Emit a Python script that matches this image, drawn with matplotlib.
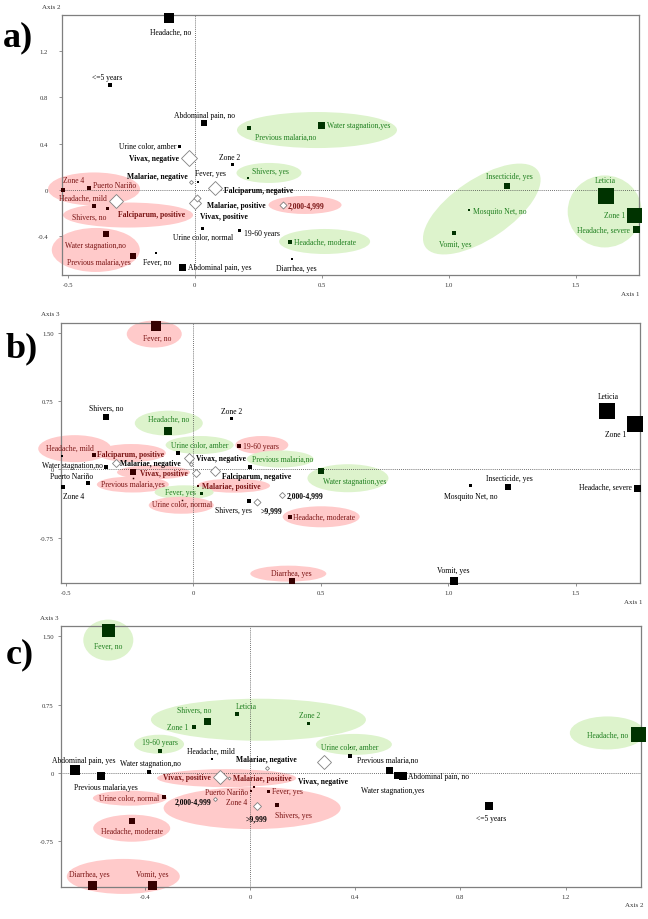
import matplotlib.pyplot as plt
from matplotlib.patches import Ellipse
from matplotlib.transforms import ScaledTranslation

plt.rcParams['font.family'] = ['Liberation Serif', 'DejaVu Serif']

# ---------- a) Axis 1 (x) vs Axis 2 (y) ----------
a_names = ['Headache, no', '<=5 years', 'Abdominal pain, no', 'Urine color, amber',
           'Vivax, negative', 'Zone 2', 'Shivers, yes', 'Malariae, negative', 'Fever, yes',
           'Falciparum, negative', 'Zone 4', 'Puerto Nariño', 'Headache, mild', 'Shivers, no',
           'Falciparum, positive', 'Malariae, positive', 'Vivax, positive', '2,000-4,999',
           'Urine color, normal', '19-60 years', 'Headache, moderate', 'Diarrhea, yes',
           'Water stagnation,no', 'Previous malaria,yes', 'Fever, no', 'Abdominal pain, yes',
           'Previous malaria,no', 'Water stagnation,yes', 'Insecticide, yes', 'Mosquito Net, no',
           'Vomit, yes', 'Leticia', 'Zone 1', 'Headache, severe']
a_x = [-0.100, -0.333, 0.036, -0.061, -0.022, 0.146, 0.212, -0.014, 0.015, 0.082,
       -0.517, -0.417, -0.396, -0.346, -0.309, 0.002, 0.010, 0.347, 0.028, 0.175,
       0.376, 0.383, -0.347, -0.241, -0.150, -0.049, 0.216, 0.498, 1.231, 1.081,
       1.020, 1.620, 1.731, 1.738]
a_y = [1.483, 0.908, 0.578, 0.382, 0.276, 0.224, 0.103, 0.066, 0.072, 0.020,
       0.003, 0.015, -0.141, -0.158, -0.092, -0.112, -0.073, -0.129, -0.325, -0.342,
       -0.446, -0.597, -0.382, -0.566, -0.543, -0.661, 0.532, 0.563, 0.032, -0.175,
       -0.373, -0.049, -0.213, -0.339]

# ---------- b) Axis 1 (x) vs Axis 3 (y) ----------
b_names = ['Fever, no', 'Shivers, no', 'Zone 2', 'Headache, no', 'Urine color, amber',
           '19-60 years', 'Headache, mild', 'Falciparum, positive', 'Water stagnation,no',
           'Malariae, negative', 'Vivax, negative', '', '', 'Falciparum, negative',
           'Previous malaria,no', 'Vivax, positive', 'Puerto Nariño', 'Zone 4',
           'Previous malaria,yes', 'Malariae, positive', 'Fever, yes', 'Urine color, normal',
           'Shivers, yes', '>9,999', '2,000-4,999', 'Headache, moderate', 'Diarrhea, yes',
           'Water stagnation,yes', 'Insecticide, yes', 'Mosquito Net, no', 'Headache, severe',
           'Leticia', 'Zone 1', 'Vomit, yes']
b_x = [-0.146, -0.341, 0.150, -0.098, -0.058, 0.179, -0.516, -0.391, -0.341, -0.305,
       -0.017, -0.010, 0.011, 0.086, 0.221, -0.236, -0.412, -0.511, -0.235, 0.017,
       0.031, -0.044, 0.217, 0.251, 0.349, 0.380, 0.387, 0.501, 1.234, 1.084,
       1.740, 1.624, 1.733, 1.022]
b_y = [1.580, 0.577, 0.563, 0.426, 0.185, 0.262, 0.148, 0.159, 0.024, 0.068,
       0.126, 0.055, -0.038, -0.013, 0.031, -0.024, -0.152, -0.196, -0.093, -0.185,
       -0.258, -0.330, -0.349, -0.357, -0.280, -0.519, -1.229, -0.013, -0.189, -0.170,
       -0.200, 0.643, 0.500, -1.225]

# ---------- c) Axis 2 (x) vs Axis 3 (y) ----------
c_names = ['Fever, no', 'Shivers, no', 'Leticia', 'Zone 1', 'Zone 2', '19-60 years',
           'Urine color, amber', 'Previous malaria,no', 'Headache, mild', 'Malariae, negative',
           'Vivax, negative', 'Abdominal pain, yes', 'Previous malaria,yes', 'Water stagnation,no',
           'Vivax, positive', 'Malariae, positive', 'Urine color, normal', 'Headache, moderate',
           'Diarrhea, yes', 'Vomit, yes', 'Puerto Nariño', 'Fever, yes', '2,000-4,999',
           'Zone 4', '>9,999', 'Shivers, yes', 'Water stagnation,yes', '', 'Abdominal pain, no',
           '<=5 years', 'Headache, no']
c_x = [-0.539, -0.163, -0.048, -0.213, 0.221, -0.343, 0.380, 0.380, -0.143, 0.063,
       0.281, -0.664, -0.567, -0.383, -0.114, -0.080, -0.327, -0.449, -0.600, -0.374,
       0.003, 0.067, -0.133, 0.015, 0.027, 0.103, 0.529, 0.560, 0.581, 0.909, 1.474]
c_y = [1.573, 0.571, 0.644, 0.502, 0.552, 0.245, 0.282, 0.183, 0.154, 0.052,
       0.117, 0.036, -0.030, 0.014, -0.047, -0.055, -0.267, -0.524, -1.226, -1.226,
       -0.198, -0.194, -0.285, -0.157, -0.359, -0.351, 0.033, -0.025, -0.033, -0.359, 0.428]

# ---------- styles: marker size (px), kind, marker colour, text colour, label offset (px) ----------
a_size = [10, 5, 6, 3, 15, 3, 2.5, 4, 2.5, 13, 4, 5, 4, 3, 13, 12, 7, 7, 3, 3,
          3.5, 2.5, 6, 6, 2, 7, 5, 7, 6, 2.5, 5, 16, 15, 7]
a_kind = ['s', 's', 's', 's', 'd', 's', 's', 'd', 's', 'd', 's', 's', 's', 's', 'd', 'd', 'd',
          'd', 's', 's', 's', 's', 's', 's', 's', 's', 's', 's', 's', 's', 's', 's', 's', 's']
a_mcol = 'kkkkkkgkkkrrrrrkkrkkgkrrkkgggggggg'
a_tcol = 'kkkkkkgkkkrrrrrkkrkkgkrrkkgggggggg'
a_off = [(1, 14, 'center'), (-3, -7.7, 'center'), (0.3, -8, 'center'), (-3, 0, 'right'),
         (-10, 0, 'right'), (-1.7, -7, 'center'), (3.7, -7, 'left'), (-3, -6.3, 'right'),
         (11.7, -8.7, 'center'), (8.7, 2.3, 'left'), (10.7, -9.7, 'center'), (4.3, -3.3, 'left'),
         (-11, -8.3, 'center'), (-17.7, 8.7, 'center'), (35, 13.3, 'center'), (12, 2, 'left'),
         (3, 17.5, 'left'), (5.3, 0, 'left'), (1, 9, 'center'), (5, 3.3, 'left'),
         (4, 0.3, 'left'), (4.3, 9, 'center'), (-11, 10.4, 'center'), (-34.6, 6.6, 'center'),
         (0.4, 8.7, 'center'), (5.7, 0, 'left'), (5.7, 8.7, 'left'), (6, 0.3, 'left'),
         (1.7, -10.6, 'center'), (4.3, 0.7, 'left'), (1.3, 10.7, 'center'), (-1, -15.7, 'center'),
         (-9.3, 0.3, 'right'), (-6, 0.7, 'right')]
a_ell = [(0.293, 0.147, 65, 20, 0, 'g'), (-0.396, 0.009, 92, 33, 0, 'r'),
         (-0.262, -0.216, 130, 25, 0, 'r'), (0.435, -0.129, 73, 18, 0, 'r'),
         (0.512, -0.444, 91, 25, 0, 'g'), (-0.389, -0.517, 88, 44, 0, 'r'),
         (0.482, 0.517, 160, 36, 0, 'g'), (1.131, -0.164, 136, 60, 34, 'g'),
         (1.615, -0.185, 74, 72, 0, 'g')]

b_size = [10, 6, 3, 8, 4, 4, 2, 4, 5, 8, 10, 4, 8, 9, 5, 6, 5, 4, 1.5, 2,
          3, 1.5, 4, 7, 6, 5, 6, 6, 6, 3, 7, 16, 16, 8]
b_kind = ['s', 's', 's', 's', 's', 's', 's', 's', 's', 'd', 'd', 'd', 'd', 'd', 's', 's', 's',
          's', 's', 's', 's', 's', 's', 'd', 'd', 's', 's', 's', 's', 's', 's', 's', 's', 's']
b_mcol = 'rkkgkrkrkkkkkkkrkkrrgrkkkrrgkkkkkk'
b_tcol = 'rkkggrrrkkkkkkgrkkrrgrkkkrrgkkkkkk'
b_off = [(1, 11.6, 'center'), (0, -8.7, 'center'), (0.4, -7, 'center'), (0.3, -12.4, 'center'),
         (21, -7.7, 'center'), (4.6, 0, 'left'), (7.8, -8, 'center'), (3.4, -1, 'left'),
         (-3, -2.6, 'right'), (4.7, -0.3, 'left'), (7.3, 0, 'left'), (0, 0, 'center'),
         (0, 0, 'center'), (6.7, 5.3, 'left'), (2.4, -7.7, 'left'), (7.3, 1.3, 'left'),
         (-16.3, -7.6, 'center'), (10.6, 8.4, 'center'), (-0.7, 6.3, 'center'), (4.4, -0.6, 'left'),
         (-21, -1.3, 'center'), (0, 4.5, 'center'), (-15.6, 8.7, 'center'), (14.7, 8, 'center'),
         (4, 0, 'left'), (3.3, 0.3, 'left'), (-0.7, -8.3, 'center'), (2, 10, 'left'),
         (1.3, -8.7, 'center'), (1.7, 10.7, 'center'), (-5, -0.7, 'right'), (1.3, -14.7, 'center'),
         (-8.3, 9.7, 'right'), (-0.4, -11.3, 'center')]
b_ell = [(-0.153, 1.489, 55, 27, 0, 'r'), (-0.096, 0.509, 68, 25, 0, 'g'),
         (0.025, 0.269, 68, 18, 0, 'g'), (0.269, 0.269, 53, 18, 0, 'r'),
         (-0.465, 0.229, 73, 27, 0, 'r'), (-0.243, 0.181, 69, 18, 0, 'r'),
         (0.341, 0.115, 67, 17, 0, 'g'), (-0.156, -0.031, 73, 14, 0, 'r'),
         (-0.237, -0.165, 72, 16, 0, 'r'), (0.158, -0.178, 73, 14, 0, 'r'),
         (-0.036, -0.251, 59, 14, 0, 'g'), (-0.047, -0.393, 65, 17, 0, 'r'),
         (0.502, -0.520, 77, 21, 0, 'r'), (0.373, -1.145, 76, 16, 0, 'r'),
         (0.607, -0.096, 81, 28, 0, 'g')]

c_size = [13, 7, 5, 4, 3, 5, 1, 4, 2, 4, 14, 10, 8, 4, 14, 3, 5, 6, 9, 9,
          2, 3, 4, 2, 8, 5, 7, 7, 8, 8, 15]
c_kind = ['s', 's', 's', 's', 's', 's', 's', 's', 's', 'd', 'd', 's', 's', 's', 'd', 'd',
          's', 's', 's', 's', 's', 's', 'd', 's', 'd', 's', 's', 's', 's', 's', 's']
c_mcol = 'gggggggkkkkkkkrrrrrrrrkrkrkkkkg'
c_tcol = 'gggggggkkkkkkkrrrrrrrrkrkrkkkkg'
c_off = [(0, 16, 'center'), (-12.7, -11, 'center'), (8.7, -8.6, 'center'), (-5.7, 0, 'right'),
         (1.3, -7.7, 'center'), (-0.4, -8.4, 'center'), (0, 0, 'center'), (7.3, 3.7, 'left'),
         (-1.6, -7.7, 'center'), (0, -9, 'center'), (-1, 18.4, 'center'), (8, -9.7, 'center'),
         (5, 11, 'center'), (0.7, -8.7, 'center'), (-9.3, 0, 'right'), (3.7, 0, 'left'),
         (-4.7, 0.7, 'right'), (-0.3, 10, 'center'), (-3, -10.7, 'center'), (0.3, -10.7, 'center'),
         (-2.4, 0.7, 'right'), (4, 0.3, 'left'), (-3.3, 2.3, 'right'), (-6.7, 14.4, 'right'),
         (-0.3, 12.6, 'center'), (16.3, 9.7, 'center'), (3.7, 20, 'center'), (0, 0, 'center'),
         (5.6, 0, 'left'), (2, 12.3, 'center'), (-9.4, 1, 'right')]
c_ell = [(-0.539, 1.458, 50, 41, 0, 'g'), (0.032, 0.584, 215, 42, 0, 'g'),
         (-0.346, 0.315, 50, 19, 0, 'g'), (0.395, 0.313, 76, 21, 0, 'g'),
         (-0.089, -0.057, 139, 18, 0, 'r'), (-0.457, -0.277, 74, 15, 0, 'r'),
         (-0.450, -0.607, 77, 27, 0, 'r'), (-0.482, -1.136, 113, 35, 0, 'r'),
         (0.008, -0.386, 177, 42, 0, 'r'), (1.359, 0.439, 75, 33, 0, 'g')]

MARK = {'k': 'black', 'g': '#003300', 'r': '#360000'}
TEXT = {'k': 'black', 'g': '#1f7f1f', 'r': '#7a1414'}
FILL = {'g': '#ddf3cc', 'r': '#ffcaca'}
BOLD = ('Vivax', 'Malariae', 'Falciparum', '4,999', '9,999')

fig = plt.figure(figsize=(6.48, 9.2), dpi=100)


def panel(rect, names, xs, ys, sizes, kinds, mcol, tcol, offs, ells,
          xlim, ylim, xt, xtl, yt, ytl, ypad):
    ax = fig.add_axes(rect)
    ax.set_xlim(*xlim)
    ax.set_ylim(*ylim)
    # shaded groups: sizes are given in pixels, centres in data units
    for cx, cy, w, h, ang, col in ells:
        tr = fig.dpi_scale_trans + ScaledTranslation(cx, cy, ax.transData)
        ax.add_patch(Ellipse((0, 0), w / 100, h / 100, angle=ang, transform=tr,
                             fc=FILL[col], ec='none', zorder=0, clip_on=False))
    ax.axhline(0, color='#444444', lw=0.6, ls=(0, (1, 1.5)), zorder=1)
    ax.axvline(0, color='#444444', lw=0.6, ls=(0, (1, 1.5)), zorder=1)
    for i, name in enumerate(names):
        if kinds[i] == 'd':
            ax.plot(xs[i], ys[i], marker='D', ms=sizes[i] * 0.72 / 1.414, mfc='white',
                    mec='#808080', mew=0.6, ls='none', zorder=4, clip_on=False)
        else:
            ax.plot(xs[i], ys[i], marker='s', ms=sizes[i] * 0.72, mfc=MARK[mcol[i]],
                    mew=0, ls='none', zorder=4, clip_on=False)
        if not name:
            continue
        dx, dy, ha = offs[i]
        bold = any(k in name for k in BOLD)
        ax.annotate(name, (xs[i], ys[i]), xytext=(dx * 0.72, -dy * 0.72),
                    textcoords='offset points', ha=ha, va='center', fontsize=5.5,
                    color=TEXT[tcol[i]], fontweight='bold' if bold else 'normal', zorder=3)
    ax.set_xticks(xt)
    ax.set_xticklabels(xtl)
    ax.set_yticks(yt)
    ax.set_yticklabels(ytl)
    ax.tick_params(axis='x', length=2, width=0.5, color='#666666', labelsize=4.8,
                   labelcolor='#333333', pad=3)
    ax.tick_params(axis='y', length=2, width=0.5, color='#666666', labelsize=4.8,
                   labelcolor='#333333', pad=ypad)
    for sp in ax.spines.values():
        sp.set_color('#7f7f7f')
        sp.set_linewidth(0.9)
    return ax


panel([0.0957, 0.7, 0.8904, 0.2826], a_names, a_x, a_y, a_size, a_kind, a_mcol, a_tcol,
      a_off, a_ell, (-0.522, 1.750), (-0.733, 1.509),
      [-0.5, 0, 0.5, 1.0, 1.5], ['-0.5', '0', '0.5', '1.0', '1.5'],
      [-0.4, 0, 0.4, 0.8, 1.2], ['-0.4', '0', '0.4', '0.8', '1.2'], 8)
panel([0.0937, 0.3649, 0.894, 0.2829], b_names, b_x, b_y, b_size, b_kind, b_mcol, b_tcol,
      b_off, b_ell, (-0.520, 1.753), (-1.251, 1.610),
      [-0.5, 0, 0.5, 1.0, 1.5], ['-0.5', '0', '0.5', '1.0', '1.5'],
      [-0.75, 0, 0.75, 1.5], ['-0.75', '0', '0.75', '1.50'], 3)
panel([0.0937, 0.0345, 0.8951, 0.2837], c_names, c_x, c_y, c_size, c_kind, c_mcol, c_tcol,
      c_off, c_ell, (-0.720, 1.486), (-1.255, 1.610),
      [-0.4, 0, 0.4, 0.8, 1.2], ['-0.4', '0', '0.4', '0.8', '1.2'],
      [-0.75, 0, 0.75, 1.5], ['-0.75', '0', '0.75', '1.50'], 3)

# axis names and panel letters
for txt, px, py in [('Axis 2', 51.7, 7.3), ('Axis 1', 630, 294),
                    ('Axis 3', 50, 315), ('Axis 1', 633, 603),
                    ('Axis 3', 49.3, 619), ('Axis 2', 634, 906)]:
    fig.text(px / 648, 1 - py / 920, txt, fontsize=5, color='#333333', ha='center', va='center')
for txt, px, py in [('a)', 18.3, 38.3), ('b)', 21.7, 349.3), ('c)', 20, 655)]:
    fig.text(px / 648, 1 - py / 920, txt, fontsize=26, fontweight='bold', ha='center', va='center')

fig.savefig('out.png', dpi=100)
